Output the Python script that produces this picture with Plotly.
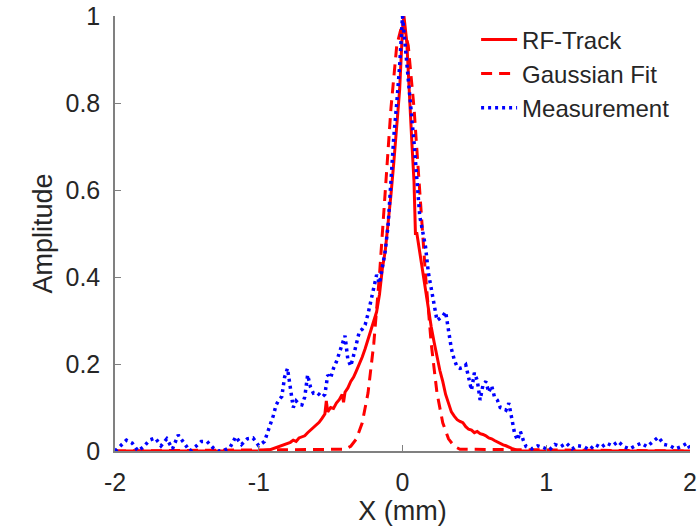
import plotly.graph_objects as go

# RF-Track simulation (solid red)
rf_x = [-2.00, -1.50, -1.00, -0.92, -0.88, -0.84, -0.80, -0.78, -0.76, -0.74, -0.72, -0.70,
        -0.68, -0.66, -0.64, -0.62, -0.60, -0.58, -0.56, -0.54, -0.53, -0.52, -0.50, -0.48,
        -0.46, -0.44, -0.42, -0.41, -0.40, -0.38, -0.36, -0.34, -0.32, -0.30, -0.28, -0.26,
        -0.24, -0.22, -0.20, -0.18, -0.16, -0.14, -0.12, -0.10, -0.08, -0.06, -0.04, -0.02,
        0.00, 0.01, 0.03, 0.045, 0.065, 0.08, 0.09, 0.10, 0.12, 0.14, 0.16, 0.18, 0.20,
        0.22, 0.24, 0.26, 0.28, 0.30, 0.32, 0.34, 0.36, 0.38, 0.40, 0.42, 0.44, 0.46, 0.48,
        0.50, 0.52, 0.54, 0.56, 0.58, 0.60, 0.62, 0.64, 0.66, 0.68, 0.70, 0.72, 0.74, 0.76,
        0.78, 0.80, 1.20, 2.00]
rf_y = [0.0, 0.0, 0.0, 0.003, 0.008, 0.012, 0.018, 0.020, 0.025, 0.022, 0.030, 0.032,
        0.035, 0.042, 0.048, 0.052, 0.060, 0.066, 0.075, 0.085, 0.115, 0.090, 0.100, 0.098,
        0.110, 0.118, 0.130, 0.112, 0.135, 0.145, 0.160, 0.170, 0.185, 0.200, 0.216, 0.235,
        0.255, 0.275, 0.295, 0.320, 0.360, 0.420, 0.460, 0.520, 0.590, 0.665, 0.740, 0.830,
        0.970, 1.000, 0.940, 0.830, 0.710, 0.620, 0.500, 0.500, 0.455, 0.410, 0.370, 0.320, 0.285,
        0.250, 0.215, 0.185, 0.160, 0.130, 0.110, 0.090, 0.080, 0.072, 0.068, 0.065, 0.056, 0.050, 0.048,
        0.042, 0.045, 0.040, 0.038, 0.035, 0.030, 0.028, 0.024, 0.020, 0.018, 0.014, 0.012, 0.008, 0.006,
        0.004, 0.0, 0.0, 0.0]

# Gaussian fit (dashed red)
gf_x = [-2.00, -0.40, -0.36, -0.32, -0.28, -0.24, -0.20, -0.16, -0.12, -0.08, -0.04, 0.00,
        0.04, 0.08, 0.12, 0.16, 0.20, 0.24, 0.28, 0.32, 0.36, 0.40, 2.00]
gf_y = [0.0, 0.004, 0.011, 0.028, 0.065, 0.133, 0.246, 0.405, 0.597, 0.789, 0.932, 0.985,
        0.932, 0.789, 0.597, 0.405, 0.246, 0.133, 0.065, 0.028, 0.011, 0.004, 0.0]

# Measurement (dotted blue)
ms_x = [-2.00, -1.96, -1.92, -1.88, -1.84, -1.80, -1.76, -1.72, -1.68, -1.64, -1.60, -1.56,
        -1.52, -1.48, -1.44, -1.40, -1.36, -1.32, -1.28, -1.24, -1.20, -1.16, -1.12, -1.08,
        -1.04, -1.00, -0.96, -0.94, -0.92, -0.90, -0.88, -0.86, -0.84, -0.82, -0.80, -0.78,
        -0.76, -0.74, -0.72, -0.70, -0.68, -0.66, -0.64, -0.62, -0.60, -0.58, -0.56, -0.54,
        -0.52, -0.50, -0.48, -0.46, -0.44, -0.42, -0.40, -0.38, -0.36, -0.34, -0.32, -0.30,
        -0.28, -0.26, -0.24, -0.22, -0.20, -0.18, -0.16, -0.14, -0.12, -0.10, -0.08, -0.06,
        -0.04, -0.02, 0.00, 0.02, 0.04, 0.06, 0.08, 0.10, 0.12, 0.14, 0.16, 0.18, 0.20, 0.22,
        0.24, 0.26, 0.28, 0.30, 0.32, 0.34, 0.36, 0.38, 0.40, 0.42, 0.44, 0.46, 0.48, 0.50,
        0.52, 0.54, 0.56, 0.58, 0.60, 0.62, 0.64, 0.66, 0.68, 0.70, 0.72, 0.74, 0.76, 0.78,
        0.80, 0.82, 0.84, 0.86, 0.90, 0.94, 0.98, 1.02, 1.06, 1.10, 1.14, 1.18, 1.22, 1.26,
        1.30, 1.34, 1.38, 1.42, 1.46, 1.50, 1.54, 1.58, 1.62, 1.66, 1.70, 1.74, 1.78, 1.82,
        1.86, 1.90, 1.94, 1.98, 2.00]
ms_y = [0.000, 0.012, 0.025, 0.018, 0.000, 0.010, 0.025, 0.030, 0.012, 0.028, 0.005, 0.037,
        0.020, 0.000, 0.010, 0.022, 0.022, 0.008, 0.000, 0.002, 0.008, 0.033, 0.015, 0.028,
        0.030, 0.012, 0.022, 0.040, 0.062, 0.080, 0.105, 0.118, 0.125, 0.170, 0.190, 0.150,
        0.100, 0.115, 0.108, 0.106, 0.124, 0.175, 0.147, 0.133, 0.135, 0.130, 0.124, 0.130,
        0.175, 0.168, 0.190, 0.205, 0.225, 0.240, 0.265, 0.210, 0.195, 0.220, 0.250, 0.275,
        0.280, 0.290, 0.315, 0.345, 0.370, 0.405, 0.385, 0.420, 0.460, 0.520, 0.630, 0.725,
        0.800, 0.885, 1.000, 0.930, 0.855, 0.790, 0.710, 0.625, 0.540, 0.505, 0.470, 0.410,
        0.375, 0.340, 0.300, 0.305, 0.310, 0.320, 0.270, 0.235, 0.210, 0.193, 0.190, 0.192,
        0.198, 0.170, 0.140, 0.180, 0.162, 0.117, 0.152, 0.160, 0.135, 0.150, 0.124, 0.117,
        0.100, 0.098, 0.094, 0.110, 0.070, 0.040, 0.025, 0.045, 0.025, 0.010, 0.005, 0.012,
        0.008, 0.002, 0.015, 0.010, 0.018, 0.005, 0.012, 0.010, 0.003, 0.015, 0.008, 0.018,
        0.012, 0.022, 0.010, 0.005, 0.012, 0.018, 0.010, 0.022, 0.032, 0.015, 0.012, 0.005,
        0.010, 0.018, 0.005]

x_ticks = [-2, -1, 0, 1, 2]
x_tick_labels = ["-2", "-1", "0", "1", "2"]
y_ticks = [0, 0.2, 0.4, 0.6, 0.8, 1]
y_tick_labels = ["0", "0.2", "0.4", "0.6", "0.8", "1"]

FONT = "Liberation Sans, Arial, sans-serif"

fig = go.Figure()
fig.add_trace(go.Scatter(x=rf_x, y=rf_y, mode="lines", name="RF-Track",
                         line=dict(color="#FF0000", width=3)))
fig.add_trace(go.Scatter(x=gf_x, y=gf_y, mode="lines", name="Gaussian Fit",
                         line=dict(color="#FF0000", width=3, dash="11px,7px")))
fig.add_trace(go.Scatter(x=ms_x, y=ms_y, mode="lines", name="Measurement",
                         line=dict(color="#0000FF", width=3.5, dash="3px,4px")))

fig.update_layout(
    width=700, height=530,
    margin=dict(l=115, r=10, t=16, b=79),
    paper_bgcolor="white", plot_bgcolor="white",
    font=dict(family=FONT, size=24, color="#262626"),
    showlegend=True,
    legend=dict(x=0.628, y=0.997, xanchor="left", yanchor="top",
                bgcolor="rgba(255,255,255,0)", borderwidth=0,
                font=dict(size=24, family=FONT, color="#262626"),
                tracegroupgap=0, itemwidth=36),
    xaxis=dict(range=[-2, 2], tickvals=x_ticks, ticktext=x_tick_labels,
               ticks="inside", ticklen=6,
               tickcolor="#808080", tickwidth=1, automargin=False,
               showline=True, linecolor="#808080", linewidth=1.5,
               showgrid=False, zeroline=False,
               tickfont=dict(size=25, family=FONT, color="#262626"),
               ticklabelstandoff=8,
               title=dict(text="X (mm)", font=dict(size=27, family=FONT, color="#262626"),
                          standoff=6)),
    yaxis=dict(range=[0, 1], tickvals=y_ticks, ticktext=y_tick_labels,
               ticks="inside", ticklen=6, tickcolor="#808080", tickwidth=1, automargin=False,
               showline=True, linecolor="#808080", linewidth=1.5,
               showgrid=False, zeroline=False,
               tickfont=dict(size=25, family=FONT, color="#262626"),
               ticklabelstandoff=8,
               title=dict(text="Amplitude", font=dict(size=27, family=FONT, color="#262626"),
                          standoff=5)),
)

fig.write_html("out.html")
